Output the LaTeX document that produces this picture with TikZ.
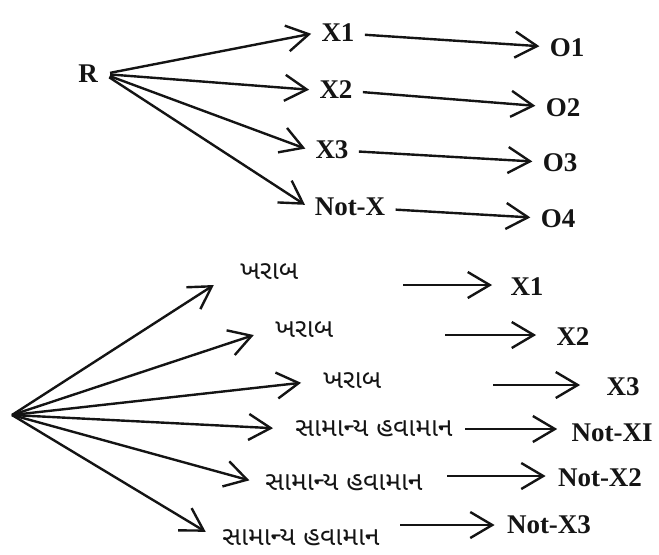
\documentclass[tikz,border=0pt]{standalone}
\usepackage{fontspec}
\setmainfont{Liberation Serif}
\newfontfamily\gujfont[Script=Gujarati]{Noto Sans Gujarati UI}
\usetikzlibrary{arrows.meta,positioning}
\definecolor{inkblack}{RGB}{20,20,20}

\begin{document}
\begin{tikzpicture}[
    x=0.5pt, y=-0.5pt,
    >={Straight Barb[length=11pt,width=13pt]},
    every node/.style={inner sep=3pt, text=inkblack},
    varlabel/.style={font=\fontsize{13.5}{16}\selectfont\bfseries},
    gujlabel/.style={anchor=west, font=\fontsize{13.2}{16}\selectfont\gujfont},
    fanarrow/.style={->, line width=1.2pt, color=inkblack, shorten <=#1, shorten >=2pt},
    fanarrow/.default=0pt,
    flatarrow/.style={->, line width=1.2pt, color=inkblack, shorten <=2pt, shorten >=2pt},
    guessarrow/.style={->, line width=1.2pt, color=inkblack, shorten >=#1},
    guessarrow/.default=8pt
]

\path[use as bounding box] (0,0) rectangle (659,554);

% Upper tree: R to outcomes
\node[varlabel] (r) at (88,74) {R};
\node[varlabel] (x1) at (338,33) {X1};
\node[varlabel] (x2) at (336,90) {X2};
\node[varlabel] (x3) at (332,150) {X3};
\node[varlabel] (notx) at (350,207) {Not-X};

\node[varlabel] (o1) at (567,48) {O1};
\node[varlabel] (o2) at (563,108) {O2};
\node[varlabel] (o3) at (560,163) {O3};
\node[varlabel] (o4) at (558,219) {O4};

\foreach \n in {x1,x2,x3,notx}
    \draw[fanarrow=3pt] (r.east) -- (\n.west);

\draw[flatarrow] (x1) -- (o1);
\draw[flatarrow] (x2) -- (o2);
\draw[flatarrow] (x3) -- (o3);
\draw[flatarrow] (notx) -- (o4);

% Lower tree: weather guesses
\coordinate (src) at (12,415);

\node[gujlabel] (bad1) at (234,272) {ખરાબ};
\node[gujlabel] (bad2) at (269,330) {ખરાબ};
\node[gujlabel] (bad3) at (317,381) {ખરાબ};
\node[gujlabel] (norm1) at (289,429) {સામાન્ય હવામાન};
\node[gujlabel] (norm2) at (259,483) {સામાન્ય હવામાન};
\node[gujlabel] (norm3) at (216,538) {સામાન્ય હવામાન};

\draw[guessarrow=12pt] (src) -- (bad1.west);
\draw[guessarrow] (src) -- (bad2.west);
\draw[guessarrow] (src) -- (bad3.west);
\draw[guessarrow] (src) -- (norm1.west);
\draw[guessarrow=5pt] (src) -- (norm2.west);
\draw[guessarrow=6pt] (src) -- (norm3.west);

% Results
\node[varlabel] (y1) at (527,287) {X1};
\node[varlabel] (y2) at (573,337) {X2};
\node[varlabel] (y3) at (623,387) {X3};
\node[varlabel, anchor=east] (ny1) at (659,433) {Not-XI};
\node[varlabel] (ny2) at (600,478) {Not-X2};
\node[varlabel] (ny3) at (549,525) {Not-X3};

\coordinate (s1) at (403,285);
\coordinate (s2) at (445,335);
\coordinate (s3) at (493,385);
\coordinate (s4) at (465,429);
\coordinate (s5) at (447,476);
\coordinate (s6) at (400,525);

\draw[guessarrow=6pt] (s1) -- (s1 -| y1.west);
\draw[guessarrow=7pt] (s2) -- (s2 -| y2.west);
\draw[guessarrow=10pt] (s3) -- (s3 -| y3.west);
\draw[guessarrow=4pt] (s4) -- (s4 -| ny1.west);
\draw[guessarrow=3pt] (s5) -- (s5 -| ny2.west);
\draw[guessarrow=3pt] (s6) -- (s6 -| ny3.west);

\end{tikzpicture}
\end{document}
